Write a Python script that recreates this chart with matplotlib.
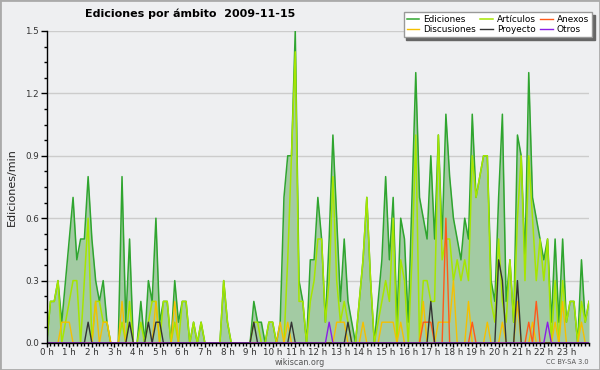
import matplotlib.pyplot as plt
from matplotlib.ticker import MultipleLocator, FormatStrFormatter
from matplotlib.patches import Rectangle

# one value every 10 minutes, 0:00 .. 24:00
minutes = list(range(0, 1441, 10))
hour_ticks = list(range(0, 1440, 60))
hour_labels = ["%d h" % h for h in range(24)]
y_ticks = [0.0, 0.3, 0.6, 0.9, 1.2, 1.5]

ediciones = [
    0.0, 0.2, 0.2, 0.3, 0.1, 0.3,
    0.5, 0.7, 0.4, 0.5, 0.5, 0.8,
    0.5, 0.3, 0.2, 0.3, 0.1, 0.0,
    0.0, 0.0, 0.8, 0.1, 0.5, 0.0,
    0.0, 0.2, 0.0, 0.3, 0.2, 0.6,
    0.1, 0.2, 0.2, 0.0, 0.3, 0.1,
    0.2, 0.2, 0.0, 0.1, 0.0, 0.1,
    0.0, 0.0, 0.0, 0.0, 0.0, 0.3,
    0.1, 0.0, 0.0, 0.0, 0.0, 0.0,
    0.0, 0.2, 0.1, 0.1, 0.0, 0.1,
    0.1, 0.0, 0.1, 0.7, 0.9, 0.9,
    1.5, 0.3, 0.2, 0.0, 0.4, 0.4,
    0.7, 0.5, 0.1, 0.5, 1.0, 0.6,
    0.2, 0.5, 0.2, 0.1, 0.0, 0.2,
    0.4, 0.7, 0.3, 0.0, 0.2, 0.4,
    0.8, 0.4, 0.7, 0.1, 0.6, 0.5,
    0.1, 0.7, 1.3, 0.7, 0.6, 0.5,
    0.9, 0.5, 1.0, 0.5, 1.1, 0.8,
    0.6, 0.5, 0.4, 0.6, 0.5, 1.1,
    0.7, 0.8, 0.9, 0.9, 0.3, 0.2,
    0.7, 1.1, 0.2, 0.4, 0.1, 1.0,
    0.9, 0.4, 1.3, 0.7, 0.6, 0.5,
    0.4, 0.5, 0.1, 0.5, 0.1, 0.5,
    0.1, 0.2, 0.2, 0.0, 0.4, 0.1,
    0.2,
]

articulos = [
    0.0, 0.2, 0.2, 0.3, 0.0, 0.1,
    0.2, 0.3, 0.3, 0.0, 0.3, 0.6,
    0.0, 0.2, 0.2, 0.1, 0.1, 0.0,
    0.0, 0.0, 0.1, 0.0, 0.2, 0.0,
    0.0, 0.1, 0.0, 0.1, 0.2, 0.2,
    0.0, 0.2, 0.2, 0.0, 0.1, 0.0,
    0.2, 0.2, 0.0, 0.1, 0.0, 0.1,
    0.0, 0.0, 0.0, 0.0, 0.0, 0.3,
    0.1, 0.0, 0.0, 0.0, 0.0, 0.0,
    0.0, 0.1, 0.1, 0.0, 0.0, 0.1,
    0.1, 0.0, 0.0, 0.0, 0.4, 0.9,
    1.4, 0.2, 0.2, 0.0, 0.2, 0.3,
    0.5, 0.5, 0.1, 0.3, 0.8, 0.3,
    0.1, 0.2, 0.1, 0.0, 0.0, 0.2,
    0.4, 0.7, 0.3, 0.0, 0.1, 0.2,
    0.3, 0.2, 0.6, 0.0, 0.4, 0.3,
    0.0, 0.4, 1.0, 0.0, 0.3, 0.3,
    0.2, 0.2, 1.0, 0.4, 0.5, 0.5,
    0.3, 0.4, 0.3, 0.4, 0.3, 0.9,
    0.7, 0.8, 0.9, 0.9, 0.2, 0.1,
    0.5, 0.2, 0.1, 0.4, 0.1, 0.6,
    0.9, 0.3, 0.9, 0.6, 0.3, 0.5,
    0.3, 0.5, 0.0, 0.3, 0.0, 0.3,
    0.1, 0.2, 0.2, 0.0, 0.2, 0.1,
    0.2,
]

discusiones = [
    0.0, 0.0, 0.0, 0.0, 0.1, 0.1,
    0.1, 0.0, 0.0, 0.0, 0.0, 0.0,
    0.0, 0.2, 0.0, 0.1, 0.1, 0.0,
    0.0, 0.0, 0.2, 0.0, 0.0, 0.0,
    0.0, 0.0, 0.0, 0.0, 0.0, 0.2,
    0.0, 0.0, 0.0, 0.0, 0.2, 0.0,
    0.0, 0.0, 0.0, 0.0, 0.0, 0.0,
    0.0, 0.0, 0.0, 0.0, 0.0, 0.0,
    0.0, 0.0, 0.0, 0.0, 0.0, 0.0,
    0.0, 0.0, 0.0, 0.0, 0.0, 0.0,
    0.0, 0.0, 0.1, 0.0, 0.1, 0.0,
    0.0, 0.0, 0.0, 0.0, 0.0, 0.0,
    0.0, 0.0, 0.0, 0.0, 0.0, 0.1,
    0.1, 0.1, 0.0, 0.0, 0.0, 0.0,
    0.1, 0.0, 0.0, 0.0, 0.0, 0.1,
    0.1, 0.1, 0.1, 0.0, 0.1, 0.0,
    0.0, 0.0, 0.0, 0.0, 0.2, 0.0,
    0.0, 0.0, 0.1, 0.1, 0.1, 0.1,
    0.3, 0.0, 0.0, 0.0, 0.2, 0.0,
    0.0, 0.0, 0.0, 0.1, 0.0, 0.0,
    0.0, 0.1, 0.0, 0.0, 0.0, 0.2,
    0.0, 0.0, 0.0, 0.1, 0.0, 0.0,
    0.0, 0.0, 0.0, 0.1, 0.0, 0.2,
    0.0, 0.0, 0.0, 0.0, 0.1, 0.0,
    0.0,
]

proyecto = [
    0.0, 0.0, 0.0, 0.0, 0.0, 0.0,
    0.0, 0.0, 0.0, 0.0, 0.0, 0.1,
    0.0, 0.0, 0.0, 0.0, 0.0, 0.0,
    0.0, 0.0, 0.0, 0.0, 0.1, 0.0,
    0.0, 0.0, 0.0, 0.1, 0.0, 0.1,
    0.1, 0.0, 0.0, 0.0, 0.0, 0.0,
    0.0, 0.0, 0.0, 0.0, 0.0, 0.0,
    0.0, 0.0, 0.0, 0.0, 0.0, 0.0,
    0.0, 0.0, 0.0, 0.0, 0.0, 0.0,
    0.0, 0.1, 0.0, 0.0, 0.0, 0.0,
    0.0, 0.0, 0.0, 0.0, 0.0, 0.1,
    0.0, 0.0, 0.0, 0.0, 0.0, 0.0,
    0.0, 0.0, 0.0, 0.0, 0.0, 0.0,
    0.0, 0.0, 0.1, 0.0, 0.0, 0.0,
    0.0, 0.0, 0.0, 0.0, 0.0, 0.0,
    0.0, 0.0, 0.0, 0.0, 0.0, 0.0,
    0.0, 0.0, 0.0, 0.0, 0.0, 0.0,
    0.2, 0.0, 0.0, 0.0, 0.0, 0.0,
    0.0, 0.0, 0.0, 0.0, 0.0, 0.0,
    0.0, 0.0, 0.0, 0.0, 0.0, 0.0,
    0.4, 0.3, 0.0, 0.0, 0.0, 0.3,
    0.0, 0.0, 0.0, 0.0, 0.0, 0.0,
    0.0, 0.0, 0.0, 0.0, 0.0, 0.0,
    0.0, 0.0, 0.0, 0.0, 0.0, 0.0,
    0.0,
]

anexos = [0.0] * 100 + [
    0.1, 0.1, 0.1, 0.0, 0.0, 0.0,
    0.6, 0.0, 0.0, 0.0, 0.0, 0.0,
    0.0, 0.1, 0.0, 0.0, 0.0, 0.0,
    0.0, 0.0, 0.0, 0.0, 0.0, 0.0,
    0.0, 0.0, 0.0, 0.0, 0.1, 0.0,
    0.2, 0.0, 0.0, 0.0, 0.0, 0.0,
    0.0, 0.0, 0.0, 0.0, 0.0, 0.0,
    0.0, 0.0, 0.0,
]

otros = [0.0] * 72 + [
    0.0, 0.0, 0.0, 0.1, 0.0, 0.0,
] + [0.0] * 48 + [
    0.0, 0.0, 0.0, 0.0, 0.0, 0.0,
    0.0, 0.1, 0.0, 0.0, 0.0, 0.0,
    0.0, 0.0, 0.0, 0.0, 0.0, 0.0,
    0.0,
]

bg = "#eeeff1"
fig = plt.figure(figsize=(6, 3.7), dpi=100, facecolor=bg)
ax = fig.add_axes([46.7 / 600, 27 / 370, 542.3 / 600, 312 / 370])
ax.set_facecolor(bg)

ax.fill_between(minutes, ediciones, color="#a3cba3", lw=0, zorder=2)
l_ed, = ax.plot(minutes, ediciones, color="#2fa52f", lw=1.1, zorder=3, label="Ediciones")
l_ar, = ax.plot(minutes, articulos, color="#a6e600", lw=1.1, zorder=4, label="Artículos")
l_di, = ax.plot(minutes, discusiones, color="#f5c000", lw=1.0, zorder=5, label="Discusiones")
l_an, = ax.plot(minutes, anexos, color="#ff5a1a", lw=1.0, zorder=5, label="Anexos")
l_pr, = ax.plot(minutes, proyecto, color="#333333", lw=1.0, zorder=6, label="Proyecto")
l_ot, = ax.plot(minutes, otros, color="#8a1ee6", lw=1.0, zorder=6, label="Otros")

ax.set_xlim(0, 1440)
ax.set_ylim(0, 1.5)
ax.set_xticks(hour_ticks)
ax.set_xticklabels(hour_labels)
ax.xaxis.set_minor_locator(MultipleLocator(10))
ax.set_yticks(y_ticks)
ax.yaxis.set_major_formatter(FormatStrFormatter("%.1f"))
ax.yaxis.set_minor_locator(MultipleLocator(0.075))
ax.tick_params(which="major", direction="out", length=4, width=1, labelsize=6.3,
               labelcolor="#333333", pad=1.5)
ax.tick_params(axis="x", which="major", length=3, pad=0.3)
ax.tick_params(which="minor", direction="out", length=2.5, width=1)
ax.grid(axis="y", color="#cccccc", lw=1)
ax.set_axisbelow(True)
for side in ["top", "right"]:
    ax.spines[side].set_visible(False)
for side in ["left", "bottom"]:
    ax.spines[side].set_color("black")
    ax.spines[side].set_linewidth(1)
    ax.spines[side].set_zorder(7)

fig.text(85 / 600, 1 - 14 / 370, "Ediciones por ámbito  2009-11-15",
         fontsize=8, fontweight="bold", ha="left", va="center")
fig.text(12 / 600, 1 - 187 / 370, "Ediciones/min", rotation=90,
         fontsize=8, ha="center", va="center", color="#222222")
fig.text(0.5, 1 - 362.5 / 370, "wikiscan.org", fontsize=5.8, color="#555555",
         ha="center", va="center")
fig.text(589 / 600, 1 - 362.5 / 370, "CC BY-SA 3.0", fontsize=4.8, color="#555555",
         ha="right", va="center")

leg = ax.legend(handles=[l_ed, l_di, l_ar, l_pr, l_an, l_ot], ncol=3,
                loc="upper right", bbox_to_anchor=(592 / 600, 1 - 12 / 370),
                bbox_transform=fig.transFigure, fontsize=6.4, frameon=True,
                fancybox=False, shadow={"color": "#666666", "alpha": 1},
                edgecolor="#999999", framealpha=1, handlelength=1.4,
                columnspacing=0.5, handletextpad=0.45, labelspacing=0.1,
                borderpad=0.35, borderaxespad=0)
leg.get_frame().set_linewidth(1)
leg.set_zorder(10)

fig.add_artist(Rectangle((0, 0), 1, 1, transform=fig.transFigure, fill=False,
                         edgecolor="#aaaaaa", lw=2))

fig.savefig("out.png", dpi=100, facecolor=bg)
